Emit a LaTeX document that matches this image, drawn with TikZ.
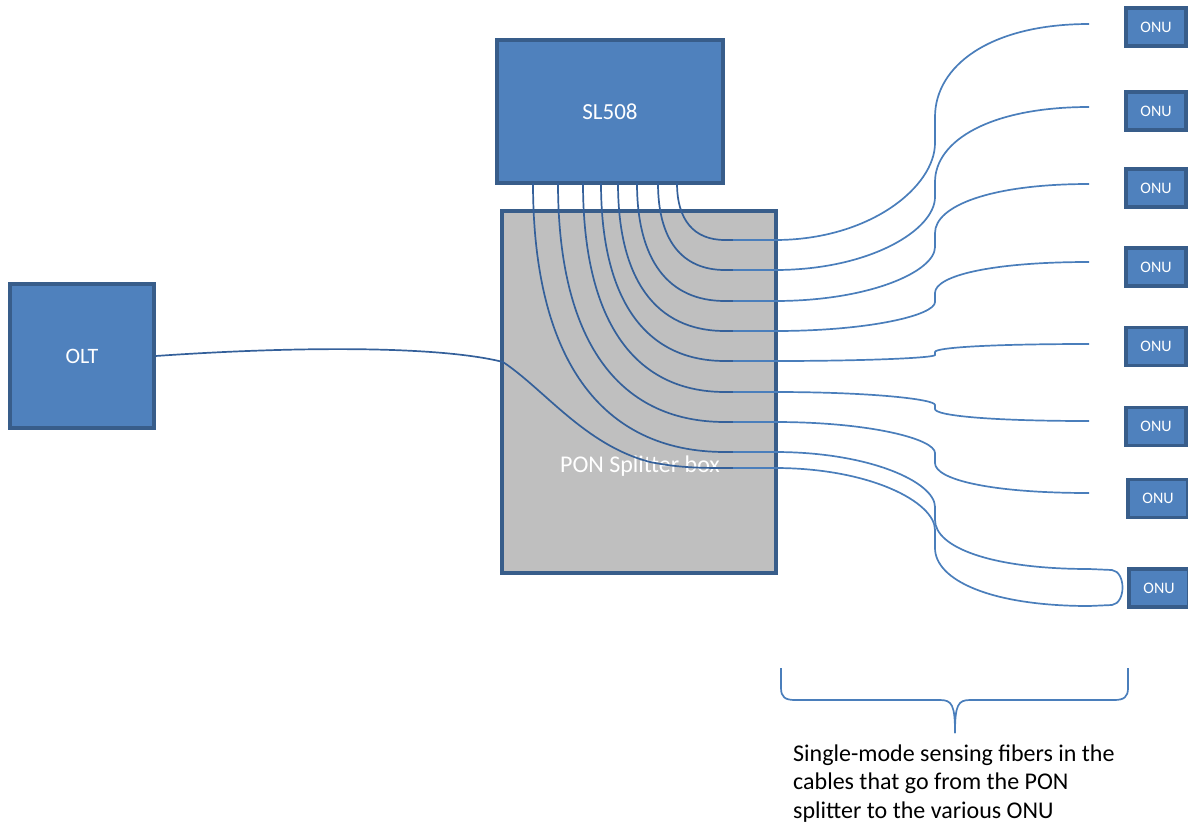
\documentclass[tikz,border=0pt]{standalone}
\usepackage{fontspec}
\setmainfont{Carlito}
\definecolor{boxfill}{HTML}{4F81BD}
\definecolor{boxline}{HTML}{385D8A}
\definecolor{grayfill}{HTML}{BFBFBF}
\definecolor{infib}{HTML}{34609A}
\definecolor{outfib}{HTML}{4A7EBB}
\tikzset{
  bluebox/.style={draw=boxline, fill=boxfill, line width=3.2pt, text=white, inner sep=0pt},
  onubox/.style={bluebox, minimum width=60pt, minimum height=38pt, font=\fontsize{16}{18}\selectfont},
  infiber/.style={draw=infib, line width=1.7pt},
  outfiber/.style={draw=outfib, line width=1.7pt},
}
\newcommand\innerfiber[2]{%
  \draw[infiber] (#1,183) .. controls (#1,{183+0.65*(#2-183)}) and ({725-0.65*(725-#1)},#2) .. (725,#2) -- (733,#2);}
\newcommand\outerfiber[4]{%
  \draw[outfiber] (733,#1) -- (775,#1) .. controls (870,#1) and (935,{#2+0.45*(#1-#2)}) .. (935,#2) -- (935,#3) .. controls (935,{#3+0.55*(#4-#3)}) and (990,#4) .. (1089,#4);}
\begin{document}
\begin{tikzpicture}[x=1pt,y=-1pt]
\useasboundingbox (0,0) rectangle (1188,825);
% boxes
\node[bluebox, minimum width=226pt, minimum height=143pt, font=\fontsize{23}{26}\selectfont] (sl) at (610,111.5) {SL508};
\node[draw=boxline, fill=grayfill, line width=3.2pt, minimum width=274pt, minimum height=362pt, inner sep=0pt] (pon) at (639,392) {};
\node[text=white, font=\fontsize{24}{28}\selectfont] (ponlabel) at (640,466) {PON Splitter box};
\node[bluebox, minimum width=144pt, minimum height=144pt, font=\fontsize{22}{26}\selectfont] (olt) at (82,356) {OLT};
% ONUs
\node[onubox] (onu1) at (1156,27) {ONU};
\node[onubox] (onu2) at (1156,111) {ONU};
\node[onubox] (onu3) at (1156,188) {ONU};
\node[onubox] (onu4) at (1156,267) {ONU};
\node[onubox] (onu5) at (1156,346.5) {ONU};
\node[onubox] (onu6) at (1156,426.5) {ONU};
\node[onubox] (onu7) at (1158,498.5) {ONU};
\node[onubox] (onu8) at (1159,588) {ONU};
% inner fibers
\innerfiber{677}{240}
\innerfiber{658}{270}
\innerfiber{637}{301}
\innerfiber{618}{331}
\innerfiber{601}{361}
\innerfiber{583}{392}
\innerfiber{558}{422}
\innerfiber{533}{452}
% OLT fiber
\draw[infiber] (olt.east) .. controls (300,346) and (440,346) .. (503,362) .. controls (545,390) and (585,445) .. (650,462) .. controls (680,468) and (700,468) .. (733,468);
% outer fibers
\outerfiber{240}{143}{117}{24}
\outerfiber{270}{197}{182}{107}
\outerfiber{301}{247}{233}{184}
\outerfiber{331}{302}{293}{262}
\outerfiber{361}{355}{352}{344}
\outerfiber{392}{405}{409}{421}
\outerfiber{422}{453}{463}{493}
\outerfiber{452}{507}{520}{569}
\outerfiber{468}{530}{548}{606}
\draw[outfiber] (1089,569) -- (1112,570) .. controls (1126,572) and (1126,603) .. (1112,605) -- (1089,606);
% brace
\coordinate (bl) at (781,668);
\coordinate (br) at (1128,668);
\coordinate (bt) at (955,733);
\draw[outfiber] (bl) -- (781,688) .. controls (781,697) and (785,700) .. (795,700) -- (940,700) .. controls (952,700) and (955,705) .. (bt);
\draw[outfiber] (br) -- (1128,688) .. controls (1128,697) and (1124,700) .. (1114,700) -- (970,700) .. controls (958,700) and (955,705) .. (bt);
\node[anchor=base west, align=left, inner sep=0pt, font=\fontsize{24}{28.5}\selectfont] (caption) at (793,818) {Single-mode sensing fibers in the\\cables that go from the PON\\splitter to the various ONU};
\end{tikzpicture}
\end{document}
